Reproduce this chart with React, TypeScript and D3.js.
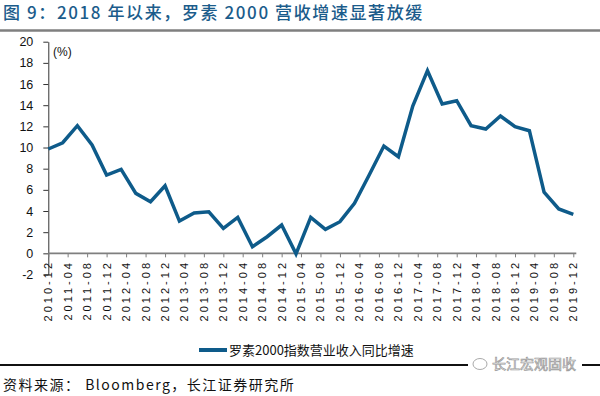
import React, { useEffect, useRef } from 'react';
import * as d3 from 'd3';

// quarterly yoy revenue growth of the Russell 2000 (%)
const QUARTERS = [
  '2010-12', '2011-03', '2011-06', '2011-09', '2011-12',
  '2012-03', '2012-06', '2012-09', '2012-12',
  '2013-03', '2013-06', '2013-09', '2013-12',
  '2014-03', '2014-06', '2014-09', '2014-12',
  '2015-03', '2015-06', '2015-09', '2015-12',
  '2016-03', '2016-06', '2016-09', '2016-12',
  '2017-03', '2017-06', '2017-09', '2017-12',
  '2018-03', '2018-06', '2018-09', '2018-12',
  '2019-03', '2019-06', '2019-09', '2019-12',
];

const GROWTH = [
  9.86, 10.45, 12.06, 10.24, 7.4,
  7.94, 5.67, 4.88, 6.39,
  3.05, 3.81, 3.93, 2.36,
  3.4, 0.62, 1.57, 2.67,
  -0.05, 3.4, 2.27, 2.99,
  4.73, 7.4, 10.14, 9.13,
  13.92, 17.26, 14.11, 14.42,
  12.06, 11.75, 12.98, 11.97,
  11.59, 5.77, 4.19, 3.69,
];

const TICK_LABELS = [
  '2010-12', '2011-04', '2011-08', '2011-12', '2012-04', '2012-08', '2012-12',
  '2013-04', '2013-08', '2013-12', '2014-04', '2014-08', '2014-12',
  '2015-04', '2015-08', '2015-12', '2016-04', '2016-08', '2016-12',
  '2017-04', '2017-08', '2017-12', '2018-04', '2018-08', '2018-12',
  '2019-04', '2019-08', '2019-12',
];

const Y_TICKS = [-2, 0, 2, 4, 6, 8, 10, 12, 14, 16, 18, 20];

const SERIES_NAME = '罗素2000指数营业收入同比增速';
const TITLE = '图 9：2018 年以来，罗素 2000 营收增速显著放缓';
const SOURCE = '资料来源： Bloomberg，长江证券研究所';

const LINE_COLOR = '#0e5b8a';
const TITLE_COLOR = '#1b5c8b';
const LATIN = '"Liberation Sans", Arial, sans-serif';
const CJK = '"Noto Sans CJK SC", "Liberation Sans", sans-serif';

export default function App() {
  const svgRef = useRef<SVGSVGElement>(null);

  useEffect(() => {
    const svg = d3.select(svgRef.current);
    svg.selectAll('*').remove();

    const parse = d3.timeParse('%Y-%m');
    const dates = QUARTERS.map(q => parse(q) as Date);
    const tickDates = TICK_LABELS.map(t => parse(t) as Date);

    const x = d3.scaleTime()
      .domain([dates[0], dates[dates.length - 1]])
      .range([48.3, 573.3]);
    const y = d3.scaleLinear().domain([-2, 20]).range([274.5, 41.7]);

    // title + top rule
    svg.append('text')
      .attr('x', 3)
      .attr('y', 19)
      .attr('fill', TITLE_COLOR)
      .attr('font-family', CJK)
      .attr('font-size', 17)
      .attr('font-weight', 500)
      .attr('letter-spacing', 1.6)
      .text(TITLE);

    svg.append('line')
      .attr('x1', 0).attr('x2', 600)
      .attr('y1', 30.5).attr('y2', 30.5)
      .attr('stroke', '#7f7f7f')
      .attr('stroke-width', 2.5);

    // y axis
    const yAxis = svg.append('g')
      .attr('transform', `translate(${x.range()[0]},0)`)
      .call(
        d3.axisLeft(y)
          .tickValues(Y_TICKS)
          .tickSize(5)
          .tickPadding(10)
          .tickSizeOuter(0)
          .tickFormat(d => String(d))
      );
    yAxis.select('.domain').attr('stroke', '#333');
    yAxis.selectAll('.tick line').attr('stroke', '#333');
    yAxis.selectAll('.tick text')
      .attr('font-family', LATIN)
      .attr('font-size', 12.5)
      .attr('fill', '#111');

    svg.append('text')
      .attr('x', 53)
      .attr('y', 56)
      .attr('font-family', LATIN)
      .attr('font-size', 12)
      .attr('fill', '#111')
      .text('(%)');

    // x axis sits on the zero line
    const y0 = y(0);
    const xAxis = svg.append('g')
      .attr('transform', `translate(0,${y0})`)
      .call(d3.axisBottom(x).tickValues(tickDates).tickSize(4).tickSizeOuter(0).tickFormat(() => ''));
    xAxis.select('.domain').remove();
    xAxis.selectAll('.tick line').attr('stroke', '#7f7f7f');

    svg.append('line')
      .attr('x1', x.range()[0]).attr('x2', x.range()[1] + 3)
      .attr('y1', y0).attr('y2', y0)
      .attr('stroke', '#7f7f7f')
      .attr('stroke-width', 1.8);

    svg.append('g')
      .selectAll('text')
      .data(tickDates)
      .join('text')
      .attr('transform', d => `translate(${x(d) + 4},260) rotate(-90)`)
      .attr('text-anchor', 'end')
      .attr('font-family', LATIN)
      .attr('font-size', 11)
      .attr('letter-spacing', 3)
      .attr('fill', '#111')
      .text((d, i) => TICK_LABELS[i]);

    // series
    const line = d3.line<number>()
      .x((d, i) => x(dates[i]))
      .y(d => y(d));

    svg.append('path')
      .datum(GROWTH)
      .attr('d', line)
      .attr('fill', 'none')
      .attr('stroke', LINE_COLOR)
      .attr('stroke-width', 3.5)
      .attr('stroke-linejoin', 'miter');

    // legend
    svg.append('line')
      .attr('x1', 199).attr('x2', 227)
      .attr('y1', 350).attr('y2', 350)
      .attr('stroke', LINE_COLOR)
      .attr('stroke-width', 4);
    svg.append('text')
      .attr('x', 229)
      .attr('y', 354.5)
      .attr('font-family', CJK)
      .attr('font-size', 13)
      .attr('fill', '#111')
      .text(SERIES_NAME);

    // bottom rule + source
    svg.append('line')
      .attr('x1', 0).attr('x2', 600)
      .attr('y1', 365).attr('y2', 365)
      .attr('stroke', '#111')
      .attr('stroke-width', 2);

    svg.append('text')
      .attr('x', 3)
      .attr('y', 390)
      .attr('font-family', CJK)
      .attr('font-size', 14)
      .attr('letter-spacing', 1.5)
      .attr('fill', '#111')
      .text(SOURCE);

    // watermark
    const wm = svg.append('g');
    wm.append('rect')
      .attr('x', 468).attr('y', 356)
      .attr('width', 114).attr('height', 16)
      .attr('fill', '#fff');
    wm.append('ellipse')
      .attr('cx', 480).attr('cy', 364)
      .attr('rx', 7).attr('ry', 5.5)
      .attr('fill', '#fff')
      .attr('stroke', '#aaa')
      .attr('stroke-width', 1);
    wm.append('text')
      .attr('x', 492)
      .attr('y', 369)
      .attr('font-family', CJK)
      .attr('font-size', 14)
      .attr('fill', '#fff')
      .attr('stroke', '#999')
      .attr('stroke-width', 0.7)
      .text('长江宏观固收');
  }, []);

  return (
    <svg
      ref={svgRef}
      width={600}
      height={396}
      style={{ position: 'absolute', left: 0, top: 0, background: '#fff' }}
    />
  );
}
